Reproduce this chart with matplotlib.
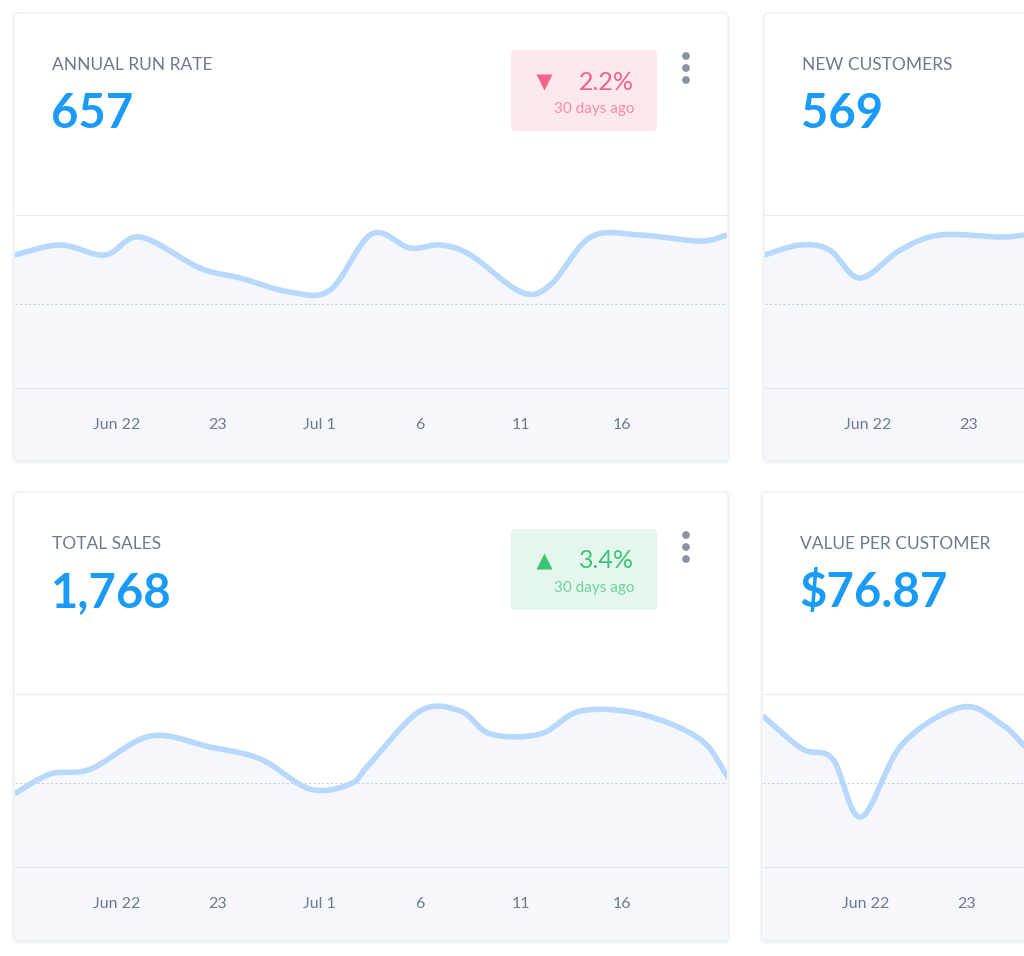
import numpy as np
import matplotlib
matplotlib.use("Agg")
import matplotlib.pyplot as plt
from matplotlib.patches import FancyBboxPatch

W, H = 1024, 956
tick_labels = ["Jun 22", "23", "Jul 1", "6", "11", "16"]

titles = ["ANNUAL RUN RATE", "NEW CUSTOMERS", "TOTAL SALES", "VALUE PER CUSTOMER"]
big_values = ["657", "569", "1,768", "$76.87"]
badge_texts = ["2.2%", None, "3.4%", None]

# series: x in tick units (Jun 22 = 1), y in chart units (0 = bottom grid line, 173 = top grid line)
s1_x = [-0.02, 0.44, 0.88, 1.23, 1.82, 2.22, 2.71, 3.11, 3.52, 3.90, 4.20, 4.50, 5.00, 5.29, 5.69, 6.18, 6.77, 7.05]
s1_y = [133, 143, 133, 151, 120, 110, 96, 98, 154, 140, 143, 133, 96, 103, 151, 153, 147, 153]
s2_x = [-0.03, 0.33, 0.62, 0.92, 1.32, 1.71, 2.31, 2.55]
s2_y = [133, 143, 138, 110, 138, 153, 151, 153]
s3_x = [-0.02, 0.34, 0.74, 1.33, 1.92, 2.42, 2.91, 3.31, 3.50, 4.00, 4.40, 4.70, 5.19, 5.59, 6.18, 6.77, 7.05]
s3_y = [73, 93, 98, 131, 120, 108, 78, 83, 103, 156, 156, 133, 133, 156, 153, 128, 90]
s4_x = [-0.01, 0.37, 0.67, 0.95, 1.36, 1.95, 2.34, 2.58]
s4_y = [150, 118, 108, 50, 123, 160, 143, 120]

def smooth(x, y, n=30):
    x = np.asarray(x, float); y = np.asarray(y, float)
    px = np.concatenate([[2*x[0]-x[1]], x, [2*x[-1]-x[-2]]])
    py = np.concatenate([[2*y[0]-y[1]], y, [2*y[-1]-y[-2]]])
    ox, oy = [], []
    t = np.linspace(0, 1, n, endpoint=False)
    for i in range(1, len(px)-2):
        for arr, out in ((px, ox), (py, oy)):
            p0, p1, p2, p3 = arr[i-1], arr[i], arr[i+1], arr[i+2]
            out.extend(0.5*((2*p1) + (-p0+p2)*t + (2*p0-5*p1+4*p2-p3)*t**2 + (-p0+3*p1-3*p2+p3)*t**3))
    ox.append(x[-1]); oy.append(y[-1])
    return np.array(ox), np.array(oy)

fig = plt.figure(figsize=(W/100, H/100), dpi=100)
bg = fig.add_axes([0, 0, 1, 1])
bg.set_xlim(0, W); bg.set_ylim(H, 0); bg.axis("off")

cards = [(14, 13, 714, 447), (764, 13, 300, 447), (14, 492, 714, 448), (762, 492, 300, 448)]
series = [(s1_x, s1_y), (s2_x, s2_y), (s3_x, s3_y), (s4_x, s4_y)]
origins = [16, 767, 16, 765]
title_x = [52, 802, 52, 800]
badge_style = [("v", "#f2648a", "#fde8ec"), None, ("^", "#3cc37a", "#e5f6ec"), None]

for i, (cx, cy, cw, ch) in enumerate(cards):
    for k, a in enumerate([0.05, 0.035, 0.02]):
        bg.add_patch(FancyBboxPatch((cx-k-1, cy-k+1), cw+2*k+2, ch+2*k+2,
                     boxstyle="round,pad=0,rounding_size=6", fc="#8090b0", ec="none", alpha=a, zorder=1))
    bg.add_patch(FancyBboxPatch((cx, cy), cw, ch, boxstyle="round,pad=0,rounding_size=5",
                 fc="white", ec="#eceef3", lw=0.8, zorder=2))
    bg.text(title_x[i], cy+52, titles[i], fontsize=12.5, color="#6b7a90", family="Lato", va="center", zorder=3)
    bg.text(title_x[i]-1, cy+101, big_values[i], fontsize=34, color="#1a9bf8", family="Lato",
            fontweight="bold", va="center", zorder=3)
    if badge_style[i]:
        mk, col, fc = badge_style[i]
        bg.add_patch(FancyBboxPatch((511, cy+37), 146, 81, boxstyle="round,pad=0,rounding_size=5",
                     fc=fc, ec="none", zorder=3))
        bg.plot([544], [cy+69], marker=mk, ms=11, color=col, mec="none", zorder=4)
        bg.text(634, cy+69, badge_texts[i], fontsize=18, color=col, family="Lato", ha="right",
                va="center", zorder=4)
        bg.text(634, cy+96, "30 days ago", fontsize=11, color=col, family="Lato", ha="right",
                va="center", alpha=0.7, zorder=4)
        for dy in (-12, 0, 12):
            bg.add_patch(plt.Circle((686, cy+55+dy), 3.2, color="#8a94a6", zorder=4))

    top = cy + 202
    bot = cy + ch - 1
    ax = fig.add_axes([(cx+1)/W, 1-bot/H, (cw-2)/W, (bot-top)/H])
    ax.set_zorder(5)
    ax.patch.set_alpha(0)
    ax.axis("off")
    x0, x1 = (cx+1-origins[i])/101, (cx+cw-1-origins[i])/101
    ax.set_xlim(x0, x1)
    ax.set_ylim(-(bot-(cy+375)), 173)
    x, y = series[i]
    sx, sy = smooth(x, y)
    ax.fill_between(sx, sy, -200, color="#f5f7fd", zorder=1, lw=0)
    ax.axhline(173, color="#e8ebf2", lw=1, zorder=2)
    ax.axhline(0, color="#e3e7ef", lw=1, zorder=2)
    ax.axhline(84, color="#c8d0dc", lw=0.8, ls=(0, (2, 2)), zorder=2)
    ax.plot(sx, sy, color="#b8d8fc", lw=4, solid_capstyle="round", zorder=3)
    for j, lab in enumerate(tick_labels):
        if j+1 + 0.3 < x1:
            ax.text(j+1, -37, lab, ha="center", va="center", fontsize=11.5, color="#6b7a90",
                    family="Lato", zorder=4)

fig.savefig("out.png", dpi=100)
